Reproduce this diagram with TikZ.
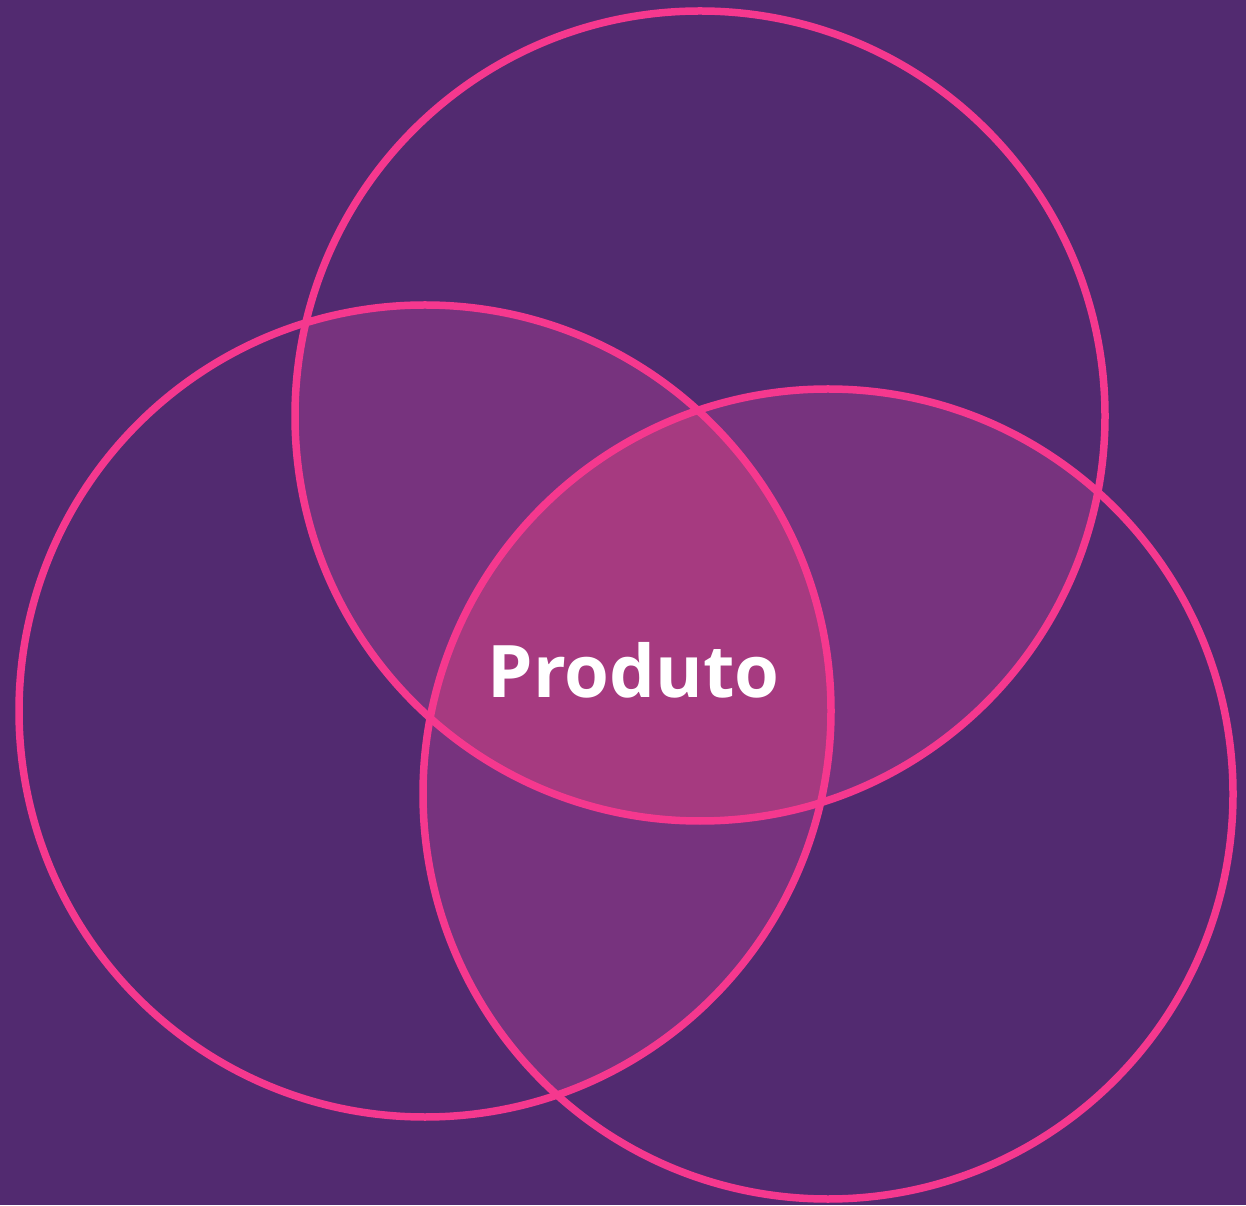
\documentclass[tikz,border=0pt]{standalone}
\usepackage{fontspec}
\setmainfont{Open Sans}
\definecolor{bgpurple}{HTML}{522A70}
\definecolor{ringpink}{HTML}{F5388E}
\definecolor{pairfill}{HTML}{77337E}
\definecolor{triplefill}{HTML}{A63A80}
\begin{document}
\begin{tikzpicture}[x=1pt,y=1pt,
  ring/.style={draw=ringpink,line width=7.5pt},
  label/.style={text=white,font=\fontsize{72.5}{80}\selectfont\bfseries,inner sep=0pt}]
\fill[bgpurple] (0,0) rectangle (1246,1205);
\useasboundingbox (0,0) rectangle (1246,1205);
\coordinate (T) at (700,789);
\coordinate (L) at (425,494);
\coordinate (R) at (828,411);
\def\rT{405}\def\rL{406}\def\rR{405}
% pairwise overlaps
\begin{scope}
  \clip (T) circle (\rT);
  \fill[pairfill] (L) circle (\rL);
  \fill[pairfill] (R) circle (\rR);
\end{scope}
\begin{scope}
  \clip (L) circle (\rL);
  \fill[pairfill] (R) circle (\rR);
\end{scope}
% triple overlap
\begin{scope}
  \clip (T) circle (\rT);
  \clip (L) circle (\rL);
  \fill[triplefill] (R) circle (\rR);
\end{scope}
\draw[ring] (T) circle (\rT);
\draw[ring] (L) circle (\rL);
\draw[ring] (R) circle (\rR);
\node[label,anchor=base] (prod) at (633.5,507) {Produto};
\end{tikzpicture}
\end{document}
